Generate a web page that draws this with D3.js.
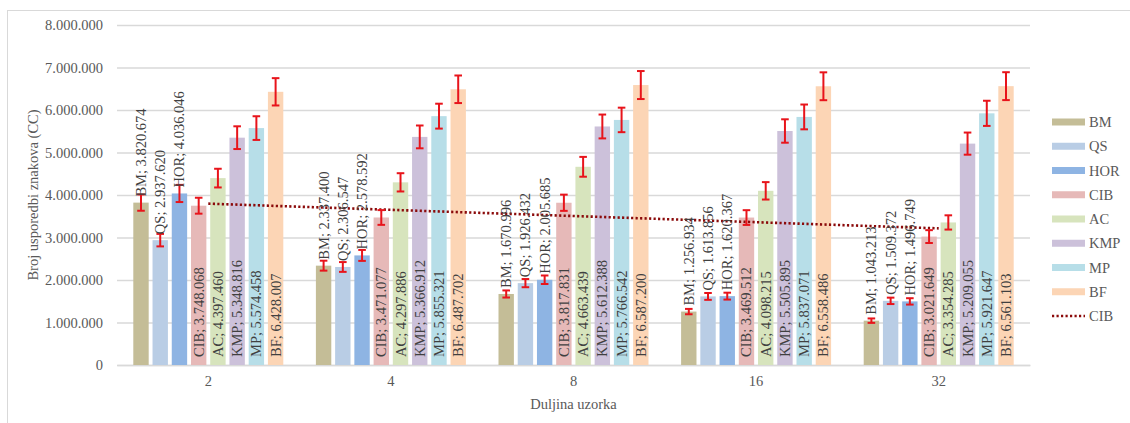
<!DOCTYPE html>
<html>
<head>
<meta charset="utf-8">
<script src="https://cdn.jsdelivr.net/npm/d3@7"></script>
<style>
  html, body { margin: 0; padding: 0; background: #fff; }
  svg { display: block; }
</style>
</head>
<body>
<svg id="chart" width="1130" height="423"></svg>
<script>
// ---- data ----
const categories = ["2", "4", "8", "16", "32"];
const seriesNames = ["BM", "QS", "HOR", "CIB", "AC", "KMP", "MP", "BF"];
const BM  = [3820674, 2337400, 1670996, 1256934, 1043213];
const QS  = [2937620, 2306547, 1926432, 1613856, 1509372];
const HOR = [4036046, 2578592, 2005685, 1620367, 1496749];
const CIB = [3748068, 3471077, 3817831, 3469512, 3021649];
const AC  = [4397460, 4297886, 4663439, 4098215, 3354285];
const KMP = [5348816, 5366912, 5612388, 5505895, 5209055];
const MP  = [5574458, 5855321, 5766542, 5837071, 5921647];
const BF  = [6428007, 6487702, 6587200, 6558486, 6561103];
const errorPercent = 5; // percentage error bars
const yTicks = [0, 1000000, 2000000, 3000000, 4000000, 5000000, 6000000, 7000000, 8000000];
const trendSeries = "CIB";
const xTitle = "Duljina uzorka";
const yTitle = "Broj usporedbi znakova (CC)";

const values = { BM, QS, HOR, CIB, AC, KMP, MP, BF };
const colors = {
  BM: "#c4bd97", QS: "#b9cde5", HOR: "#8eb4e3", CIB: "#e6b9b8",
  AC: "#d7e4bd", KMP: "#ccc1da", MP: "#b7dee8", BF: "#fcd5b5"
};
const outsideEnd = new Set(["BM", "QS", "HOR"]);
const FONT = "'Liberation Serif', Tinos, 'Times New Roman', serif";
const FS = 14.5;

// ---- layout ----
const svg = d3.select("#chart");
const plot = { left: 117, right: 1030, top: 25, bottom: 365 };

// chart frame
svg.append("rect").attr("x", 7.5).attr("y", 10.5).attr("width", 1140).attr("height", 430)
  .attr("fill", "none").attr("stroke", "#d9d9d9").attr("stroke-width", 1);

const y = d3.scaleLinear().domain([0, 8000000]).range([plot.bottom, plot.top]);
const x0 = d3.scaleBand().domain(categories).range([plot.left, plot.right]).padding(0);
const groupW = 150;
const side = (x0.bandwidth() - groupW) / 2;
const x1 = d3.scaleBand().domain(seriesNames).range([side, side + groupW]).paddingInner(0.2).paddingOuter(0);

const fmt = v => d3.format(",")(v).replace(/,/g, ".");

// gridlines + y labels
const yAxis = d3.axisLeft(y).tickValues(yTicks).tickSize(-(plot.right - plot.left)).tickFormat(fmt).tickPadding(14);
const gy = svg.append("g").attr("transform", `translate(${plot.left},0)`).call(yAxis);
gy.attr("font-family", FONT).attr("font-size", FS);
gy.select(".domain").remove();
gy.selectAll(".tick line").attr("stroke", "#d9d9d9").attr("stroke-width", 1.3);
gy.selectAll(".tick text").attr("fill", "#595959");

// x axis
const xAxis = d3.axisBottom(x0).tickSize(0).tickPadding(11);
const gx = svg.append("g").attr("transform", `translate(0,${plot.bottom})`).call(xAxis);
gx.attr("font-family", FONT).attr("font-size", FS);
gx.select(".domain").attr("stroke", "#d9d9d9").attr("stroke-width", 1.3);
gx.selectAll(".tick text").attr("fill", "#595959");

// bars
const rows = [];
categories.forEach((c, i) => seriesNames.forEach(s => rows.push({ c, i, s, v: values[s][i] })));

svg.append("g").selectAll("rect").data(rows).join("rect")
  .attr("x", d => x0(d.c) + x1(d.s))
  .attr("y", d => y(d.v))
  .attr("width", x1.bandwidth())
  .attr("height", d => y(0) - y(d.v))
  .attr("fill", d => colors[d.s]);

// trendline (linear regression on CIB)
const tv = values[trendSeries];
const n = tv.length;
const xs = d3.range(1, n + 1);
const mx = d3.mean(xs), my = d3.mean(tv);
const slope = d3.sum(xs, (xi, k) => (xi - mx) * (tv[k] - my)) / d3.sum(xs, xi => (xi - mx) ** 2);
const icpt = my - slope * mx;
const trendPts = categories.map((c, k) => [x0(c) + x0.bandwidth() / 2, y(icpt + slope * (k + 1))]);
svg.append("path").attr("d", d3.line()(trendPts))
  .attr("fill", "none").attr("stroke", "#8b0a0a").attr("stroke-width", 2.6)
  .attr("stroke-dasharray", "2.2 2.3");

// error bars
const eg = svg.append("g").attr("stroke", "#e8141b").attr("stroke-width", 2).attr("fill", "none");
rows.forEach(d => {
  const cx = x0(d.c) + x1(d.s) + x1.bandwidth() / 2;
  const e = d.v * errorPercent / 100;
  const yt = y(d.v + e), yb = y(d.v - e);
  eg.append("line").attr("x1", cx).attr("x2", cx).attr("y1", yt).attr("y2", yb);
  eg.append("line").attr("x1", cx - 3.8).attr("x2", cx + 3.8).attr("y1", yt).attr("y2", yt);
  eg.append("line").attr("x1", cx - 3.8).attr("x2", cx + 3.8).attr("y1", yb).attr("y2", yb);
});

// data labels
svg.append("g").attr("font-family", FONT).attr("font-size", FS)
  .selectAll("text").data(rows).join("text")
  .attr("transform", d => {
    const cx = x0(d.c) + x1(d.s) + x1.bandwidth() / 2;
    const yy = outsideEnd.has(d.s) ? y(d.v) - 6 : y(0) - 8;
    return `translate(${cx + 5},${yy}) rotate(-90)`;
  })
  .attr("fill", "#404040")
  .text(d => `${d.s}; ${fmt(d.v)}`);

// axis titles
svg.append("text").attr("x", (plot.left + plot.right) / 2).attr("y", 409)
  .attr("font-family", FONT).attr("font-size", FS)
  .attr("text-anchor", "middle").attr("fill", "#595959").text(xTitle);
svg.append("text").attr("transform", `translate(38,195) rotate(-90)`)
  .attr("font-family", FONT).attr("font-size", FS)
  .attr("text-anchor", "middle").attr("fill", "#595959").text(yTitle);

// legend
const lg = svg.append("g").attr("transform", "translate(1052,122)")
  .attr("font-family", FONT).attr("font-size", FS);
const legendItems = seriesNames.map(s => ({ name: s, type: "bar" })).concat([{ name: trendSeries, type: "trend" }]);
legendItems.forEach((it, k) => {
  const g = lg.append("g").attr("transform", `translate(0,${k * 24.25})`);
  if (it.type === "bar") {
    g.append("rect").attr("x", 0).attr("y", -3.5).attr("width", 33).attr("height", 7).attr("fill", colors[it.name]);
  } else {
    g.append("line").attr("x1", 0).attr("x2", 33).attr("y1", 0).attr("y2", 0)
      .attr("stroke", "#8b0a0a").attr("stroke-width", 2.6).attr("stroke-dasharray", "2.2 2.3");
  }
  g.append("text").attr("x", 37).attr("y", 5).attr("fill", "#595959").text(it.name);
});
</script>
</body>
</html>
